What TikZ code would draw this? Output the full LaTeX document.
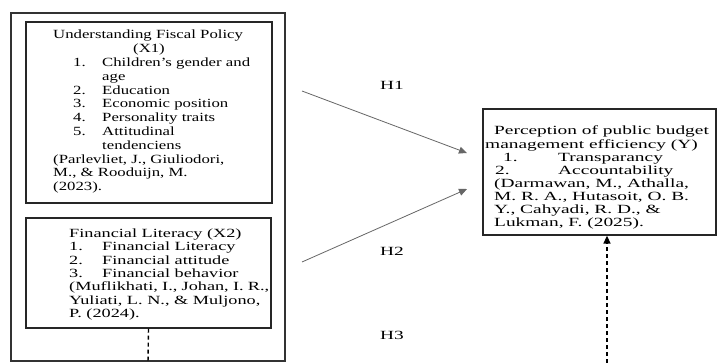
\documentclass[tikz,border=0pt]{standalone}
\usepackage{fontspec}
\setmainfont{Liberation Serif}
\newfontfamily\fA[FakeStretch=1.34]{Liberation Serif}
\newfontfamily\fB[FakeStretch=1.46]{Liberation Serif}
\newfontfamily\fC[FakeStretch=1.55]{Liberation Serif}
\usetikzlibrary{arrows.meta}
\newcommand\numit[3]{\hspace*{#1}\makebox[#2][l]{#3}}
\begin{document}
\begin{tikzpicture}[x=1pt,y=-1pt,
  boxnode/.style={draw=black!85, line width=1.3pt, inner sep=0pt, rectangle},
  outerbox/.style={draw=black!80, line width=1.5pt, inner sep=0pt, rectangle},
  txt/.style={inner sep=0pt, anchor=base west, align=left},
  hlab/.style={inner sep=0pt, font=\fC\fontsize{12.5}{13}\selectfont},
  solidarrow/.style={draw=black!60, line width=0.8pt, -{Triangle[length=8pt,width=7pt]}},
  dashline/.style={draw=black, line width=1.4pt, dash pattern=on 4pt off 3pt},
  dasharrow/.style={dashline, -{Triangle[length=8pt,width=7pt]}}
]
\useasboundingbox (0,0) rectangle (717,363);
\fill[white] (0,0) rectangle (717,363);

% boxes
\node[outerbox, minimum width=274pt, minimum height=348pt] (outer) at (148,187) {};
\node[boxnode, minimum width=246pt, minimum height=181pt] (x1) at (149,112.5) {};
\node[boxnode, minimum width=245pt, minimum height=110pt] (x2) at (148.5,273) {};
\node[boxnode, minimum width=233pt, minimum height=126pt] (y) at (599.5,172) {};

% box X1 text
\node[txt] (x1text) at (53,39) {\parbox[t]{220pt}{\fA\fontsize{12.5}{13.8}\selectfont
Understanding Fiscal Policy\\
\hspace*{80pt}(X1)\\
\numit{20pt}{29pt}{1.}Children’s gender and\\
\hspace*{49pt}age\\
\numit{20pt}{29pt}{2.}Education\\
\numit{20pt}{29pt}{3.}Economic position\\
\numit{20pt}{29pt}{4.}Personality traits\\
\numit{20pt}{29pt}{5.}Attitudinal\\
\hspace*{49pt}tendenciens\\
(Parlevliet, J., Giuliodori,\\
M., \& Rooduijn, M.\\
(2023).}};

% box X2 text
\node[txt] (x2text) at (69,237.5) {\parbox[t]{200pt}{\fB\fontsize{12.5}{13.3}\selectfont
Financial Literacy (X2)\\
\numit{0pt}{33pt}{1.}Financial Literacy\\
\numit{0pt}{33pt}{2.}Financial attitude\\
\numit{0pt}{33pt}{3.}Financial behavior\\
(Muflikhati, I., Johan, I. R.,\\
Yuliati, L. N., \& Muljono,\\
P. (2024).}};

% box Y text
\node[txt] (ytext) at (494,135) {\parbox[t]{222pt}{\fC\fontsize{12.5}{13.1}\selectfont
Perception of public budget\\
\hspace*{-9pt}management efficiency (Y)\\
\numit{9pt}{55pt}{1.}Transparancy\\
\numit{1pt}{63pt}{2.}Accountability\\
(Darmawan, M., Athalla,\\
M. R. A., Hutasoit, O. B.\\
Y., Cahyadi, R. D., \&\\
Lukman, F. (2025).}};

% hypothesis labels
\node[hlab] (h1) at (392,85) {H1};
\node[hlab] (h2) at (392,251) {H2};
\node[hlab] (h3) at (392,335) {H3};

% connector end points
\coordinate (a1s) at (302,91);
\coordinate (a1e) at (467,153);
\coordinate (a2s) at (302,262);
\coordinate (a2e) at (467,189);
\coordinate (d1e) at (148,363);
\coordinate (d2s) at (607,363);

\draw[solidarrow] (a1s) -- (a1e);
\draw[solidarrow] (a2s) -- (a2e);
\draw[dashline] (x2.south) -- (d1e);
\draw[dasharrow] (d2s) -- (y.south -| d2s);
\end{tikzpicture}
\end{document}
